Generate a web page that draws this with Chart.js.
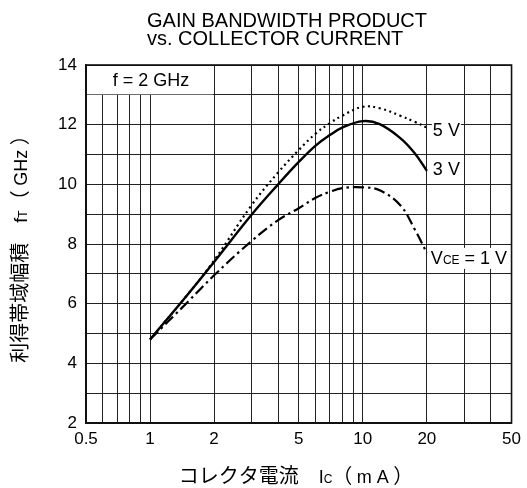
<!DOCTYPE html>
<html>
<head>
<meta charset="utf-8">
<script src="https://cdn.jsdelivr.net/npm/chart.js@4"></script>
<style>
  html, body { margin: 0; padding: 0; background: #fff; }
  canvas { display: block; }
</style>
</head>
<body>
<canvas id="gbwChart" width="527" height="488"></canvas>
<script>
// collector current (mA) and fT (GHz) per VCE
const ic   = [1, 1.5, 2, 3, 4, 5, 6, 7, 8, 10, 12, 15, 17.5, 20];
const vce5 = [4.8, 6.3, 7.45, 9.3, 10.4, 11.15, 11.7, 12.05, 12.3, 12.6, 12.55, 12.3, 12.1, 11.9];
const vce3 = [4.8, 6.3, 7.4, 8.98, 10.0, 10.75, 11.3, 11.65, 11.9, 12.12, 12.02, 11.55, 11.05, 10.45];
const vce1 = [4.8, 6.05, 6.95, 8.1, 8.8, 9.2, 9.55, 9.75, 9.87, 9.9, 9.8, 9.3, 8.5, 7.7];

const xTicks  = [0.5, 0.6, 0.7, 0.8, 0.9, 1, 2, 3, 4, 5, 6, 7, 8, 9, 10, 20, 30, 40, 50];
const xLabels = [0.5, 1, 2, 5, 10, 20, 50];
const yLabels = [2, 4, 6, 8, 10, 12, 14];

const LATIN = '"Liberation Sans", Arial, sans-serif';
const CJK = '"Noto Sans CJK JP", "Liberation Sans", sans-serif';

const pts = vals => ic.map((x, i) => ({ x: x, y: vals[i] }));

// draw pieces of text one after another, some smaller (subscripts)
function drawRuns(ctx, runs, x, y) {
    let cx = x;
    runs.forEach(r => {
        ctx.font = r.font;
        ctx.fillText(r.t, cx, y + (r.dy || 0));
        cx += ctx.measureText(r.t).width;
    });
    return cx - x;
}
function runsWidth(ctx, runs) {
    let w = 0;
    runs.forEach(r => { ctx.font = r.font; w += ctx.measureText(r.t).width; });
    return w;
}

const decor = {
    id: 'decor',
    beforeDatasetsDraw(chart) {
        const ctx = chart.ctx, a = chart.chartArea;
        const xs = chart.scales.x, ys = chart.scales.y;
        // "f = 2 GHz" box in the top-left cell
        const bx2 = xs.getPixelForValue(2), by = ys.getPixelForValue(13);
        ctx.save();
        ctx.fillStyle = '#fff';
        ctx.fillRect(a.left + 1, a.top + 1, bx2 - a.left - 2, by - a.top - 1.5);
        ctx.fillStyle = '#000';
        ctx.font = '18px ' + LATIN;
        ctx.textAlign = 'center';
        ctx.textBaseline = 'middle';
        ctx.fillText('f = 2 GHz', (a.left + bx2) / 2 + 1, (a.top + by) / 2 + 1);
        ctx.restore();
    },
    afterDatasetsDraw(chart) {
        const ctx = chart.ctx, a = chart.chartArea;
        const xs = chart.scales.x, ys = chart.scales.y;
        ctx.save();
        // frame
        ctx.strokeStyle = '#111';
        ctx.lineWidth = 1.6;
        ctx.strokeRect(a.left, a.top, a.right - a.left, a.bottom - a.top);

        // curve labels
        const lx = xs.getPixelForValue(20) + 6;
        ctx.textBaseline = 'middle';
        ctx.textAlign = 'left';
        ctx.font = '18px ' + LATIN;
        [['5 V', ys.getPixelForValue(11.8)], ['3 V', ys.getPixelForValue(10.48)]].forEach(([t, y]) => {
            const w = ctx.measureText(t).width;
            ctx.fillStyle = '#fff';
            ctx.fillRect(lx - 1, y - 7, w + 2, 14);
            ctx.fillStyle = '#000';
            ctx.fillText(t, lx, y);
        });
        const y1 = ys.getPixelForValue(7.5);
        const runs = [
            { t: 'V', font: '18px ' + LATIN },
            { t: 'CE', font: '12px ' + LATIN, dy: 2 },
            { t: ' = 1 V', font: '18px ' + LATIN }
        ];
        const w1 = runsWidth(ctx, runs);
        ctx.fillStyle = '#fff';
        ctx.fillRect(lx - 3, y1 - 11, w1 + 4, 21);
        ctx.fillStyle = '#000';
        drawRuns(ctx, runs, lx - 2, y1);

        // title
        ctx.font = '20px ' + LATIN;
        ctx.textBaseline = 'alphabetic';
        ctx.fillText('GAIN BANDWIDTH PRODUCT', 147, 27);
        ctx.fillText('vs. COLLECTOR CURRENT', 147, 45);

        // x axis title
        const xr = [
            { t: 'コレクタ電流　', font: '20px ' + CJK },
            { t: 'I', font: '18px ' + LATIN },
            { t: 'C', font: '12px ' + LATIN },
            { t: '（ ', font: '20px ' + CJK },
            { t: 'm A', font: '18px ' + LATIN },
            { t: ' ）', font: '20px ' + CJK }
        ];
        const xw = runsWidth(ctx, xr);
        drawRuns(ctx, xr, 296 - xw / 2, 483);

        // y axis title (rotated)
        ctx.translate(27, (a.top + a.bottom) / 2);
        ctx.rotate(-Math.PI / 2);
        const yr = [
            { t: '利得帯域幅積　', font: '20px ' + CJK },
            { t: 'f', font: '18px ' + LATIN },
            { t: 'T', font: '12px ' + LATIN },
            { t: '（ ', font: '20px ' + CJK },
            { t: 'GHz', font: '18px ' + LATIN },
            { t: ' ）', font: '20px ' + CJK }
        ];
        const yw = runsWidth(ctx, yr);
        drawRuns(ctx, yr, -yw / 2, 0);
        ctx.restore();
    }
};

new Chart(document.getElementById('gbwChart'), {
    type: 'line',
    data: {
        datasets: [
            { label: 'VCE = 5 V', data: pts(vce5), borderColor: '#000', borderWidth: 2.2,
              borderDash: [2, 3.5] },
            { label: 'VCE = 3 V', data: pts(vce3), borderColor: '#000', borderWidth: 2.4 },
            { label: 'VCE = 1 V', data: pts(vce1), borderColor: '#000', borderWidth: 2.2,
              borderDash: [11, 4, 2.5, 4] }
        ]
    },
    options: {
        responsive: false,
        animation: false,
        devicePixelRatio: 1,
        layout: { padding: { top: 65, right: 15, left: 0, bottom: 0 } },
        elements: {
            point: { radius: 0 },
            line: { tension: 0.4, fill: false }
        },
        plugins: { legend: { display: false }, tooltip: { enabled: false }, title: { display: false } },
        scales: {
            x: {
                type: 'logarithmic',
                min: 0.5,
                max: 50,
                afterBuildTicks: s => { s.ticks = xTicks.map(v => ({ value: v })); },
                afterFit: s => { s.height = 65; },
                grid: { color: '#222', lineWidth: 1, drawTicks: false },
                border: { display: true, color: '#111', width: 1.6 },
                ticks: {
                    autoSkip: false,
                    maxRotation: 0,
                    padding: 6,
                    color: '#000',
                    font: { family: LATIN, size: 17 },
                    callback: v => xLabels.includes(v) ? String(v) : ''
                }
            },
            y: {
                min: 2,
                max: 14,
                afterFit: s => { s.width = 86; },
                grid: { color: '#222', lineWidth: 1, drawTicks: false },
                border: { display: true, color: '#111', width: 1.6 },
                ticks: {
                    stepSize: 1,
                    padding: 9,
                    color: '#000',
                    font: { family: LATIN, size: 17 },
                    callback: v => yLabels.includes(v) ? String(v) : ''
                }
            }
        }
    },
    plugins: [decor]
});
</script>
</body>
</html>
